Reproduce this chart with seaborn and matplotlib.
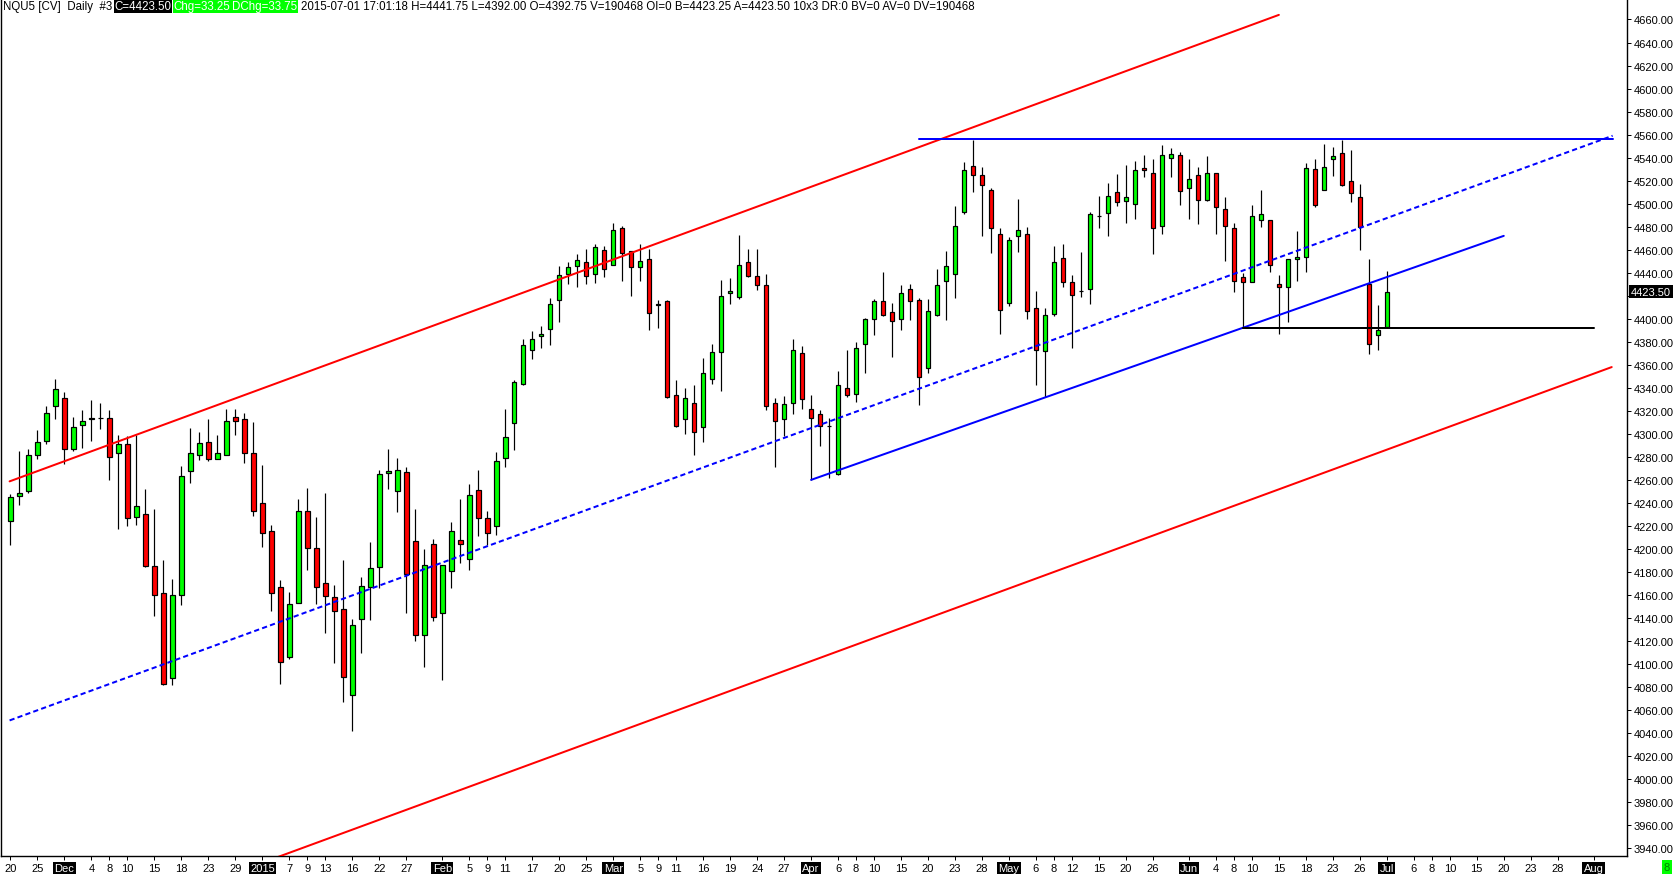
import numpy as np
import pandas as pd
import matplotlib
matplotlib.use("Agg")
import matplotlib.pyplot as plt
import seaborn as sns

# NQU5 daily bars, 2014-11-20 .. 2015-07-01 (one entry per trading day)
opens = [4224, 4246, 4250, 4282, 4294, 4324, 4331, 4287, 4308, 4313,
         4313.5, 4314, 4283, 4291, 4228, 4230, 4185, 4162, 4088, 4160,
         4268, 4282, 4293, 4278, 4282, 4315, 4313, 4283, 4240, 4216,
         4167, 4106, 4153, 4233, 4201, 4170, 4158, 4148, 4073, 4139,
         4167, 4184, 4266, 4250, 4267, 4207, 4125, 4204, 4144, 4181,
         4208, 4191, 4251, 4227, 4220, 4279, 4309, 4343, 4373, 4385,
         4391, 4416, 4439, 4446, 4449, 4439, 4460, 4447, 4479, 4459,
         4445, 4452, 4412, 4415, 4334, 4313, 4327, 4306, 4348, 4371,
         4422, 4419, 4449, 4437, 4429, 4327, 4313, 4327, 4370, 4322,
         4317, 4307, 4265, 4340, 4335, 4378, 4400, 4415, 4406, 4400,
         4426, 4416, 4357, 4403, 4433, 4439, 4493, 4533, 4525, 4512,
         4474, 4414, 4472, 4474, 4409, 4372, 4404, 4453, 4432, 4424,
         4426, 4489, 4492, 4510, 4502, 4500, 4531, 4527, 4481, 4540,
         4542, 4514, 4525, 4503, 4527, 4495, 4479, 4436, 4432, 4486,
         4486, 4430, 4428, 4452, 4454, 4530, 4512, 4539, 4544, 4520,
         4506, 4430, 4386, 4392.75]
highs = [4248, 4285, 4287, 4303, 4324, 4348, 4336, 4315, 4321, 4329,
         4327, 4321, 4299, 4298, 4299, 4252, 4235, 4190, 4174, 4272,
         4305, 4302, 4313, 4299, 4322, 4322, 4318, 4310, 4273, 4221,
         4173, 4163, 4243, 4253, 4228, 4249, 4169, 4190, 4139, 4176,
         4206, 4269, 4287, 4279, 4271, 4235, 4200, 4209, 4186, 4223,
         4243, 4256, 4269, 4233, 4284, 4322, 4347, 4382, 4389, 4394,
         4418, 4446, 4449, 4456, 4461, 4465, 4463, 4483, 4481, 4459,
         4465, 4461, 4416, 4416, 4347, 4340, 4342, 4366, 4378, 4434,
         4435, 4473, 4461, 4461, 4439, 4331, 4333, 4382, 4376, 4334,
         4321, 4314, 4355, 4373, 4380, 4401, 4417, 4441, 4414, 4429,
         4430, 4418, 4417, 4443, 4459, 4498, 4536, 4555, 4532, 4514,
         4479, 4471, 4504, 4480, 4424, 4409, 4463, 4465, 4438, 4458,
         4493, 4507, 4518, 4526, 4534, 4537, 4542, 4539, 4551, 4548,
         4545, 4539, 4532, 4541, 4527, 4506, 4483, 4440, 4499, 4512,
         4486, 4438, 4452, 4476, 4535, 4539, 4552, 4549, 4555, 4547,
         4517, 4452, 4412, 4441.75]
lows = [4203, 4238, 4249, 4278, 4291, 4313, 4274, 4285, 4288, 4294,
        4304, 4260, 4217, 4220, 4221, 4184, 4142, 4082, 4082, 4151,
        4257, 4277, 4276, 4278, 4282, 4299, 4275, 4229, 4202, 4146,
        4083, 4104, 4153, 4182, 4152, 4127, 4101, 4067, 4042, 4110,
        4138, 4166, 4252, 4232, 4144, 4120, 4097, 4137, 4086, 4166,
        4188, 4182, 4211, 4203, 4212, 4271, 4286, 4342, 4365, 4375,
        4377, 4397, 4430, 4428, 4430, 4431, 4436, 4447, 4433, 4420,
        4433, 4390, 4392, 4331, 4306, 4300, 4282, 4293, 4343, 4337,
        4413, 4417, 4436, 4425, 4321, 4271, 4298, 4317, 4322, 4260,
        4289, 4262, 4264, 4332, 4328, 4353, 4386, 4402, 4367, 4390,
        4399, 4325, 4353, 4402, 4399, 4418, 4491, 4510, 4472, 4457,
        4387, 4411, 4458, 4400, 4342, 4332, 4402, 4428, 4375, 4419,
        4413, 4479, 4472, 4498, 4483, 4487, 4523, 4456, 4474, 4523,
        4499, 4487, 4482, 4502, 4474, 4450, 4423, 4392, 4432, 4480,
        4441, 4387, 4397, 4433, 4441, 4497, 4512, 4524, 4515, 4501,
        4460, 4369, 4373, 4392.00]
closes = [4245, 4249, 4282, 4293, 4318, 4339, 4287, 4306, 4311, 4313.5,
          4313.5, 4280, 4291, 4227, 4237, 4185, 4160, 4083, 4160, 4263,
          4283, 4292, 4278, 4283, 4311, 4311, 4283, 4233, 4214, 4162,
          4102, 4152, 4233, 4201, 4167, 4159, 4146, 4089, 4134, 4168,
          4183, 4265, 4267.5, 4269, 4178, 4125, 4186, 4141, 4186, 4216,
          4204, 4247, 4227, 4214, 4276, 4297, 4345, 4377, 4382, 4387,
          4413, 4438, 4445, 4451, 4437, 4462, 4443, 4477, 4457, 4445,
          4450, 4405, 4413, 4332, 4307, 4331, 4302, 4353, 4371, 4420,
          4424, 4447, 4437, 4429, 4324, 4311, 4326, 4373, 4330, 4314,
          4307, 4307, 4342, 4334, 4375, 4400, 4415, 4403, 4398, 4422,
          4415, 4349, 4407, 4429, 4446, 4481, 4529, 4525, 4516, 4479,
          4408, 4468, 4477, 4407, 4373, 4403, 4449, 4432, 4421, 4424,
          4491, 4489, 4507, 4501, 4506, 4529, 4529, 4479, 4542, 4543,
          4511, 4521, 4503, 4527, 4497, 4481, 4433, 4432, 4489, 4491,
          4447, 4428, 4452, 4454, 4531, 4499, 4532, 4541, 4516, 4509,
          4480, 4378, 4390, 4423.50]

# date axis labels and the bar they sit under
tick_bars = [0, 3, 6, 9, 11, 13, 16, 19, 22, 25, 28, 31, 33, 35, 38, 41, 44,
             48, 51, 53, 55, 58, 61, 64, 67, 70, 72, 74, 77, 80, 83, 86, 89,
             92, 94, 96, 99, 102, 105, 108, 111, 114, 116, 118, 121, 124, 127,
             131, 134, 136, 138, 141, 144, 147, 150, 153, 156, 158, 160, 163,
             166, 169, 172, 176]
tick_labels = ["20", "25", "Dec", "4", "8", "10", "15", "18", "23", "29", "2015",
               "7", "9", "13", "16", "22", "27", "Feb", "5", "9", "11", "17",
               "20", "25", "Mar", "5", "9", "11", "16", "19", "24", "27", "Apr",
               "6", "8", "10", "15", "20", "23", "28", "May", "6", "8", "12",
               "15", "20", "26", "Jun", "4", "8", "10", "15", "18", "23", "26",
               "Jul", "6", "8", "10", "15", "20", "23", "28", "Aug"]
boxed_labels = ["Dec", "2015", "Feb", "Mar", "Apr", "May", "Jun", "Jul", "Aug"]

# drawn trend lines: (bar, price) end points
red_upper_x, red_upper_y = [-0.1, 141], [4258.7, 4664]
red_lower_x, red_lower_y = [0, 178], [3847, 4358]
blue_dash_x, blue_dash_y = [-0.1, 178.1], [4051, 4559]
blue_solid_x, blue_solid_y = [89, 166], [4260, 4472]
blue_top_x, blue_top_y = [101, 178.1], [4556, 4556]
black_x, black_y = [137, 176], [4392, 4392]

last_price = 4423.50

df = pd.DataFrame({"open": opens, "high": highs, "low": lows, "close": closes})
df["bar"] = np.arange(len(df))
df["up"] = df["close"] >= df["open"]

sns.set_theme(style="white")
plt.rcParams["font.family"] = ["Liberation Sans", "DejaVu Sans"]

GREEN = "#00FF00"
RED = "#FF0000"
BLUE = "#0000FF"
px = 0.72  # one pixel in points at dpi 100

fig = plt.figure(figsize=(16.74, 8.78), dpi=100)
ax = fig.add_axes([1 / 1674, 21 / 878, 1626 / 1674, 857 / 878])

# candles
ax.vlines(df["bar"], df["low"], df["high"], color="black", linewidth=px * 1.2, zorder=2)
body_lo = df[["open", "close"]].min(axis=1)
body_h = (df["close"] - df["open"]).abs().clip(lower=0.01)
ax.bar(df["bar"], body_h, bottom=body_lo, width=0.5,
       color=np.where(df["up"], GREEN, RED), edgecolor="black",
       linewidth=px * 1.2, zorder=3)

# trend lines
sns.lineplot(x=red_upper_x, y=red_upper_y, color=RED, linewidth=2 * px, ax=ax, zorder=4)
sns.lineplot(x=red_lower_x, y=red_lower_y, color=RED, linewidth=2 * px, ax=ax, zorder=4)
sns.lineplot(x=blue_dash_x, y=blue_dash_y, color=BLUE, linewidth=2 * px,
             linestyle=(0, (2.6, 1.6)), ax=ax, zorder=4)
sns.lineplot(x=blue_solid_x, y=blue_solid_y, color=BLUE, linewidth=2 * px, ax=ax, zorder=4)
sns.lineplot(x=blue_top_x, y=blue_top_y, color=BLUE, linewidth=2 * px, ax=ax, zorder=4)
sns.lineplot(x=black_x, y=black_y, color="black", linewidth=2 * px, ax=ax, zorder=4)

ax.set_xlim(-1.056, 179.7)
ax.set_ylim(3933.2, 4677.8)

# axes look
ax.spines["top"].set_visible(False)
for s in ["left", "right", "bottom"]:
    ax.spines[s].set_color("black")
    ax.spines[s].set_linewidth(1.4 * px)
ax.yaxis.tick_right()
yt = np.arange(3940, 4661, 20)
ax.set_yticks(yt)
# the 4420 label sits under the last-price flag, as on the original chart
ax.set_yticklabels(["" if abs(v - last_price) < 10 else f"{v:.2f}" for v in yt])
ax.tick_params(axis="y", direction="out", length=3, width=px, pad=2,
               labelsize=8, colors="black", right=True, left=False)
ax.set_xticks(tick_bars)
ax.set_xticklabels(tick_labels)
ax.tick_params(axis="x", direction="out", length=3, width=px, pad=2,
               labelsize=8, colors="black", bottom=True)
for lbl in ax.get_xticklabels():
    if lbl.get_text() in boxed_labels:
        lbl.set_color("white")
        lbl.set_bbox(dict(facecolor="black", edgecolor="none", pad=1))
ax.set_xlabel("")
ax.set_ylabel("")
ax.grid(False)

# last price flag on the price scale
ax.annotate("4423.50", xy=(1.0, last_price), xycoords=ax.get_yaxis_transform(),
            xytext=(3, 0), textcoords="offset points", ha="left", va="center",
            fontsize=8, color="white", annotation_clip=False,
            bbox=dict(facecolor="black", edgecolor="none", pad=1.2), zorder=7)

# header line
t = ax.annotate("NQU5 [CV]  Daily  #3", xy=(3 / 1674, 1 - 1 / 878),
                xycoords="figure fraction", ha="left", va="top",
                fontsize=8.3, color="black")
pieces = [("C=4423.50", "black"), ("Chg=33.25", GREEN), ("DChg=33.75", GREEN)]
for txt, bg in pieces:
    t = ax.annotate(txt, xy=(1, 0), xycoords=t, xytext=(1.5, 0),
                    textcoords="offset points", ha="left", va="bottom",
                    fontsize=8.3, color="white",
                    bbox=dict(facecolor=bg, edgecolor="none", pad=0.6))
ax.annotate("2015-07-01 17:01:18 H=4441.75 L=4392.00 O=4392.75 V=190468 OI=0 "
            "B=4423.25 A=4423.50 10x3 DR:0 BV=0 AV=0 DV=190468",
            xy=(1, 0), xycoords=t, xytext=(2.5, 0), textcoords="offset points",
            ha="left", va="bottom", fontsize=8.3, color="black")

# small green status box in the corner
fig.text(1667 / 1674, 10 / 878, "8", ha="center", va="center", fontsize=8,
         color="#008000", bbox=dict(facecolor=GREEN, edgecolor="none", pad=1.5))

fig.savefig("out.png", dpi=100)
